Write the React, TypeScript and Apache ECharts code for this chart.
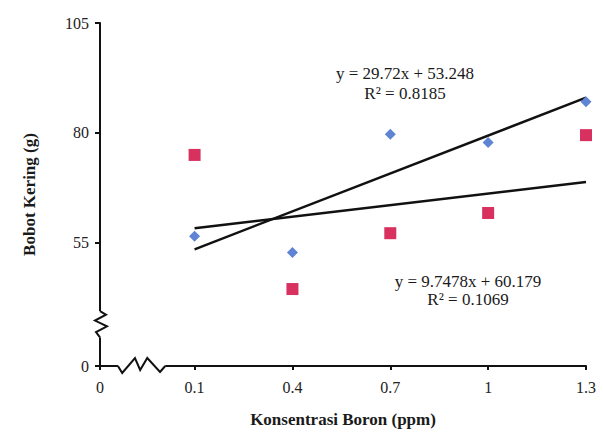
import React, { useEffect, useRef } from "react";
import * as echarts from "echarts";

// X categories (ppm) and measured values
const xValues = [0.1, 0.4, 0.7, 1.0, 1.3];
const seriesBlue = [56.5, 52.8, 79.7, 77.8, 87.1];
const seriesRed = [75.0, 44.5, 57.2, 61.8, 79.5];

// Axis ticks (the lowest value stands for the broken "0")
const xAxisMin = -0.19;
const xAxisMax = 1.3;
const xTicks = [-0.19, 0.1, 0.4, 0.7, 1, 1.3];
const xTickLabels = ["0", "0.1", "0.4", "0.7", "1", "1.3"];
const yAxisMin = 27;
const yAxisMax = 105;
const yTicks = [27, 55, 80, 105];
const yTickLabels = ["0", "55", "80", "105"];

// Axis-break ranges (in axis units)
const yBreak = [33.5, 39.5];
const xBreak = [-0.135, 0.01];

const eqBlue = ["y = 29.72x + 53.248", "R² = 0.8185"];
const eqRed = ["y = 9.7478x + 60.179", "R² = 0.1069"];

function fit(xs: number[], ys: number[]) {
  const n = xs.length;
  const mx = xs.reduce((a, b) => a + b, 0) / n;
  const my = ys.reduce((a, b) => a + b, 0) / n;
  let sxy = 0;
  let sxx = 0;
  for (let i = 0; i < n; i++) {
    sxy += (xs[i] - mx) * (ys[i] - my);
    sxx += (xs[i] - mx) * (xs[i] - mx);
  }
  const b = sxy / sxx;
  const a = my - b * mx;
  const x0 = xs[0];
  const x1 = xs[n - 1];
  return [
    [x0, a + b * x0],
    [x1, a + b * x1],
  ];
}

const FONT = "'Liberation Serif', 'Times New Roman', serif";

export default function App() {
  const ref = useRef<HTMLDivElement>(null);
  useEffect(() => {
    if (!ref.current) return;
    const chart = echarts.init(ref.current, undefined, { renderer: "svg" });
    const labelFor = (ticks: number[], labels: string[]) => (v: number) => {
      const i = ticks.findIndex((t) => Math.abs(t - v) < 1e-6);
      return i >= 0 ? labels[i] : "";
    };
    chart.setOption({
      animation: false,
      backgroundColor: "#ffffff",
      grid: { left: 100, right: 17, top: 23, bottom: 69, containLabel: false },
      xAxis: {
        type: "value",
        min: xAxisMin,
        max: xAxisMax,
        name: "Konsentrasi Boron (ppm)",
        nameLocation: "middle",
        nameGap: 45,
        nameTextStyle: { fontFamily: FONT, fontWeight: "bold", fontSize: 17, color: "#1a1a1a" },
        axisLine: { show: true, onZero: false, lineStyle: { color: "#111", width: 2 } },
        axisTick: { show: true, customValues: xTicks, length: 4, lineStyle: { color: "#111", width: 2 } },
        axisLabel: {
          customValues: xTicks,
          formatter: labelFor(xTicks, xTickLabels),
          fontFamily: FONT,
          fontSize: 16,
          color: "#222",
          margin: 13,
        },
        splitLine: { show: false },
      },
      yAxis: {
        type: "value",
        min: yAxisMin,
        max: yAxisMax,
        name: "Bobot Kering (g)",
        nameLocation: "middle",
        nameGap: 62,
        nameRotate: 90,
        nameTextStyle: { fontFamily: FONT, fontWeight: "bold", fontSize: 17, color: "#1a1a1a" },
        axisLine: { show: true, onZero: false, lineStyle: { color: "#111", width: 2 } },
        axisTick: { show: true, customValues: yTicks, length: 5, lineStyle: { color: "#111", width: 2 } },
        axisLabel: {
          customValues: yTicks,
          formatter: labelFor(yTicks, yTickLabels),
          fontFamily: FONT,
          fontSize: 16,
          color: "#222",
          margin: 11,
        },
        splitLine: { show: false },
      },
      series: [
        {
          name: "trend blue",
          type: "line",
          data: fit(xValues, seriesBlue),
          symbol: "none",
          lineStyle: { color: "#111", width: 2.5 },
          z: 2,
        },
        {
          name: "trend red",
          type: "line",
          data: fit(xValues, seriesRed),
          symbol: "none",
          lineStyle: { color: "#111", width: 2.5 },
          z: 2,
        },
        {
          name: "blue",
          type: "scatter",
          data: xValues.map((x, i) => [x, seriesBlue[i]]),
          symbol: "diamond",
          symbolSize: 11,
          itemStyle: { color: "#5f84d4", opacity: 1 },
          z: 3,
        },
        {
          name: "red",
          type: "scatter",
          data: xValues.map((x, i) => [x, seriesRed[i]]),
          symbol: "rect",
          symbolSize: 12,
          itemStyle: { color: "#d8305f", opacity: 1 },
          z: 3,
        },
      ],
    });

    // decorations: equations and axis-break zigzags
    const o = chart.convertToPixel({ gridIndex: 0 }, [xAxisMin, yAxisMin]) as number[];
    const yTop = (chart.convertToPixel({ gridIndex: 0 }, [xAxisMin, yBreak[1]]) as number[])[1];
    const yBot = (chart.convertToPixel({ gridIndex: 0 }, [xAxisMin, yBreak[0]]) as number[])[1];
    const xL = (chart.convertToPixel({ gridIndex: 0 }, [xBreak[0], yAxisMin]) as number[])[0];
    const xR = (chart.convertToPixel({ gridIndex: 0 }, [xBreak[1], yAxisMin]) as number[])[0];
    const ax = o[0];
    const ay = o[1];
    const hY = yBot - yTop;
    const wX = xR - xL;
    const txt = (s: string, x: number, y: number) => ({
      type: "text",
      x,
      y,
      style: {
        text: s,
        fontFamily: FONT,
        fontSize: 17,
        fill: "#1a1a1a",
        align: "center",
        verticalAlign: "middle",
      },
      z: 10,
    });
    chart.setOption({
      graphic: [
        { type: "rect", shape: { x: ax - 3, y: yTop, width: 6, height: hY }, style: { fill: "#fff" }, z: 20 },
        {
          type: "polyline",
          shape: {
            points: [
              [ax, yTop],
              [ax + 6, yTop + hY * 0.14],
              [ax - 5, yTop + hY * 0.36],
              [ax + 7, yTop + hY * 0.58],
              [ax - 4, yTop + hY * 0.8],
              [ax, yBot],
            ],
          },
          style: { stroke: "#111", lineWidth: 2, fill: "none" },
          z: 21,
        },
        { type: "rect", shape: { x: xL, y: ay - 3, width: wX, height: 6 }, style: { fill: "#fff" }, z: 20 },
        {
          type: "polyline",
          shape: {
            points: [
              [xL, ay],
              [xL + wX * 0.09, ay + 7],
              [xL + wX * 0.36, ay - 8],
              [xL + wX * 0.47, ay + 4],
              [xL + wX * 0.62, ay - 8],
              [xL + wX * 0.89, ay + 6],
              [xR, ay],
            ],
          },
          style: { stroke: "#111", lineWidth: 2, fill: "none" },
          z: 21,
        },
        txt(eqBlue[0], 405, 73),
        txt(eqBlue[1], 405, 93),
        txt(eqRed[0], 468, 281),
        txt(eqRed[1], 468, 299),
      ],
    });
    return () => chart.dispose();
  }, []);
  return <div ref={ref} style={{ position: "fixed", left: 0, top: 0, width: 603, height: 435 }} />;
}
